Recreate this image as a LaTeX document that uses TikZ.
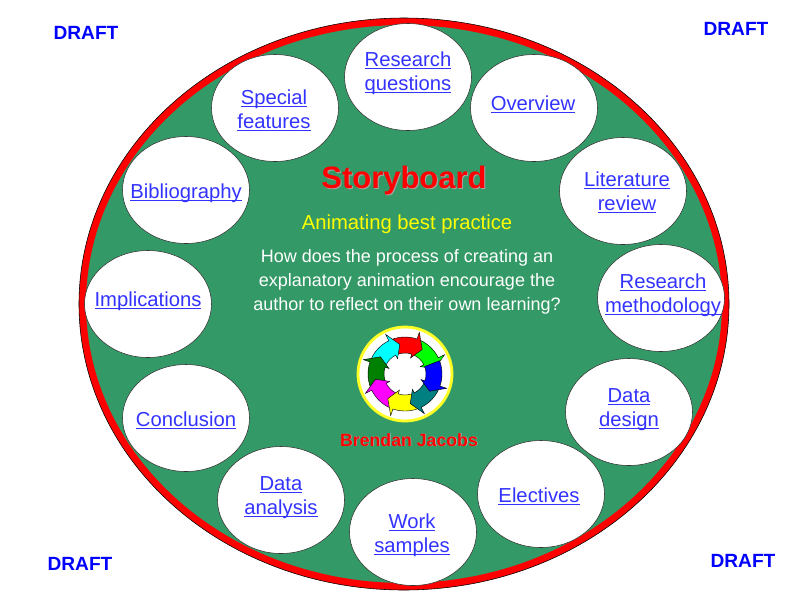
\documentclass[tikz,border=0pt]{standalone}
\usepackage{fontspec}
\setmainfont{Liberation Sans}
\usepackage{xcolor}
\usepackage{tikz}
\usetikzlibrary{shapes.geometric}
\definecolor{boardgreen}{RGB}{51, 153, 102}
\definecolor{linkblue}{RGB}{51, 51, 255}
\definecolor{draftblue}{RGB}{0, 0, 255}
\definecolor{titlered}{RGB}{255, 0, 0}
\definecolor{subyellow}{RGB}{255, 255, 0}
\definecolor{arrowgreen}{RGB}{0, 255, 0}
\definecolor{arrowcyan}{RGB}{0, 255, 255}
\definecolor{arrowdark}{RGB}{0, 128, 0}
\definecolor{arrowmagenta}{RGB}{255, 0, 255}
\definecolor{arrowteal}{RGB}{0, 128, 128}
\newcommand{\topiclink}[1]{\underline{\smash{#1}}}
\tikzset{
	topic/.style={ellipse, draw=black!80, fill=white, line width=0.4pt, minimum width=127*0.025cm, minimum height=107*0.025cm, inner sep=0pt},
	topictext/.style={inner sep=0pt, align=center, text=linkblue, font=\fontsize{14.4}{17}\selectfont},
	draft/.style={text=draftblue, font=\fontsize{13.6}{16}\selectfont\bfseries}
}

\begin{document}
\begin{tikzpicture}[x=0.025cm, y=-0.025cm]
			\useasboundingbox (0,0) rectangle (800,600);
			% board
			\fill[boardgreen] (404,304) ellipse (322 and 283);
			\draw[titlered, line width=5pt] (404,304) ellipse (321.5 and 282.5);
			\draw[black, line width=0.4pt] (404,304) ellipse (325 and 286);

			% topics, clockwise from the top
			\node[topic] (questions) at (408,77) {};
			\node[topic] (overview) at (534,108) {};
			\node[topic] (literature) at (623,191) {};
			\node[topic] (methodology) at (661,298) {};
			\node[topic] (design) at (629,412) {};
			\node[topic] (electives) at (541,494) {};
			\node[topic] (samples) at (413,532) {};
			\node[topic] (analysis) at (281,500) {};
			\node[topic] (conclusion) at (186,418) {};
			\node[topic] (implications) at (148,304) {};
			\node[topic] (bibliography) at (186,190) {};
			\node[topic] (features) at (275,108) {};

			\node[topictext] (questionstext) at (408,80) {\topiclink{Research}\\\topiclink{questions}};
			\node[topictext] (overviewtext) at (533,112) {\topiclink{Overview}};
			\node[topictext] (literaturetext) at (627,200) {\topiclink{Literature}\\\topiclink{review}};
			\node[topictext] (methodologytext) at (663,302) {\topiclink{Research}\\\topiclink{methodology}};
			\node[topictext] (designtext) at (629,416) {\topiclink{Data}\\\topiclink{design}};
			\node[topictext] (electivestext) at (539,504) {\topiclink{Electives}};
			\node[topictext] (samplestext) at (412,542) {\topiclink{Work}\\\topiclink{samples}};
			\node[topictext] (analysistext) at (281,504) {\topiclink{Data}\\\topiclink{analysis}};
			\node[topictext] (conclusiontext) at (186,428) {\topiclink{Conclusion}};
			\node[topictext] (implicationstext) at (148,308) {\topiclink{Implications}};
			\node[topictext] (bibliographytext) at (186,200) {\topiclink{Bibliography}};
			\node[topictext] (featurestext) at (274,118) {\topiclink{Special}\\\topiclink{features}};

			% middle text
			\node[text=gray!70, font=\fontsize{22}{26}\selectfont\bfseries] (shadow) at (405,181.5) {Storyboard};
			\node[text=titlered, font=\fontsize{22}{26}\selectfont\bfseries] (title) at (404,180) {Storyboard};
			\node[text=subyellow, font=\fontsize{14.4}{17}\selectfont] (subtitle) at (407,224) {Animating best practice};
			\node[text=white, align=center, font=\fontsize{12.8}{17}\selectfont] (question) at (407,282) {How does the process of creating an\\explanatory animation encourage the\\author to reflect on their own learning?};

			% logo
			\draw[subyellow!85!white, fill=white, line width=2pt] (405,374) circle (47);
			\begin{scope}[shift={(405,374)}, x=0.025cm, y=0.025cm]
				\foreach \ang/\col in {40/arrowgreen, 85/red, 130/arrowcyan, 175/arrowdark, -140/arrowmagenta, -95/subyellow, -50/arrowteal, -5/blue}{
					\filldraw[fill=\col, draw=black, line width=0.3pt] (\ang+26:21) arc[start angle=\ang+26, end angle=\ang-14, radius=21] -- (\ang-14:17) -- (\ang-30:30) -- (\ang-14:44) -- (\ang-14:37) arc[start angle=\ang-14, end angle=\ang+26, radius=37] -- cycle;
				}
			\end{scope}
			\node[text=gray!50, font=\fontsize{12.6}{15}\selectfont\bfseries] (authorshadow) at (409.6,440.6) {Brendan Jacobs};
			\node[text=titlered, font=\fontsize{12.6}{15}\selectfont\bfseries] (author) at (409,440) {Brendan Jacobs};

			% corners
			\node[draft] (draftnw) at (86,33) {DRAFT};
			\node[draft] (draftne) at (736,29) {DRAFT};
			\node[draft] (draftsw) at (80,564) {DRAFT};
			\node[draft] (draftse) at (743,561) {DRAFT};
		\end{tikzpicture}
\end{document}
